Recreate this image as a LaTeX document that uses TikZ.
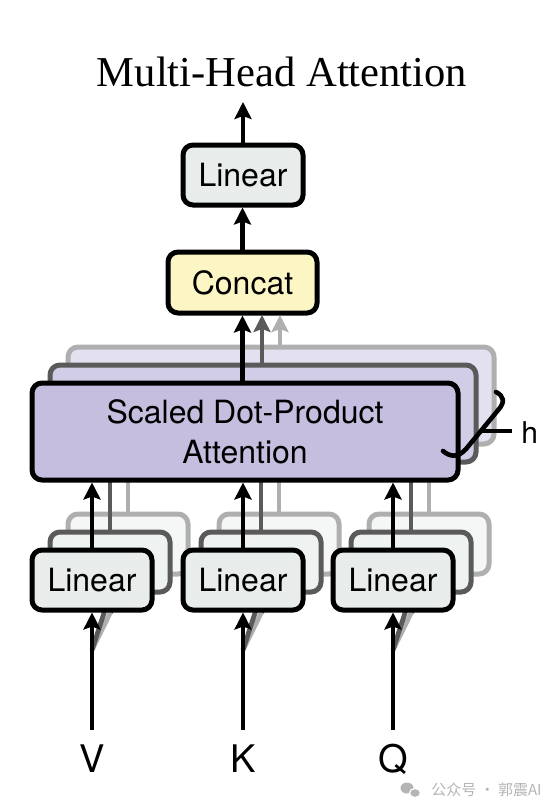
\documentclass[tikz,border=0pt]{standalone}
\usepackage{fontspec}
\setmainfont{Liberation Serif}
\newfontfamily\hv{TeX Gyre Heros}
\newfontfamily\cjk{Noto Sans CJK SC}
\usetikzlibrary{arrows.meta}
\definecolor{linfill}{HTML}{E8EDEB}
\definecolor{linfillb}{HTML}{EEF2F0}
\definecolor{linfillc}{HTML}{F5F7F6}
\definecolor{catfill}{HTML}{FCF5C4}
\definecolor{sdfill}{HTML}{C5BEDE}
\definecolor{sdfillb}{HTML}{D2CDE6}
\definecolor{sdfillc}{HTML}{E3E0F0}
\definecolor{midgray}{HTML}{5A5A5A}
\definecolor{lightgray}{HTML}{AFAFAF}
\definecolor{wmgray}{HTML}{B4B4B4}
\tikzset{
  box/.style={draw, line width=2.5pt, rounded corners=5pt, inner sep=0pt,
    font=\hv\fontsize{16}{20}\selectfont, align=center},
  linbox/.style={box, fill=linfill, minimum width=60pt, minimum height=30pt},
  sdbox/.style={box, fill=sdfill, minimum width=213pt, minimum height=48.5pt},
  layerb/.style={draw=midgray},
  layerc/.style={draw=lightgray},
  arr/.style={line width=2.4pt, -{Stealth[length=8.5pt,width=8.5pt,inset=1.5pt]}},
  arrb/.style={arr, draw=midgray},
  arrc/.style={arr, draw=lightgray},
  lbl/.style={font=\hv\fontsize{19}{22}\selectfont, anchor=base, inner sep=0pt},
}
\begin{document}
\begin{tikzpicture}[x=0.5pt,y=-0.5pt]
\useasboundingbox (0,0) rectangle (554,808);
% title
\node[anchor=base, inner sep=0pt, font=\fontsize{21.3}{24}\selectfont] (title) at (282,87) {Multi-Head Attention};

% input coordinates
\coordinate (vin) at (92,730);
\coordinate (kin) at (243,730);
\coordinate (qin) at (393,730);
\coordinate (vs) at (92,650);
\coordinate (ks) at (243,650);
\coordinate (qs) at (393,650);

% back layers of SDPA
\node[sdbox, layerc, fill=sdfillc] (sdc) at (281,395.5) {};
% back layers of linear (3rd)
\node[linbox, layerc, fill=linfillc] (l1c) at (128,544) {};
\node[linbox, layerc, fill=linfillc] (l2c) at (279,544) {};
\node[linbox, layerc, fill=linfillc] (l3c) at (429,544) {};
% slanted input arrows (hidden parts)
\draw[arrc] (vs) -- (l1c.south);
\draw[arrc] (ks) -- (l2c.south);
\draw[arrc] (qs) -- (l3c.south);
\draw[arrc] (l1c.north) -- (l1c.north |- sdc.south);
\draw[arrc] (l2c.north) -- (l2c.north |- sdc.south);
\draw[arrc] (l3c.north) -- (l3c.north |- sdc.south);

\node[sdbox, layerb, fill=sdfillb] (sdb) at (263,413.5) {};
\node[linbox, layerb, fill=linfillb] (l1b) at (110,562) {};
\node[linbox, layerb, fill=linfillb] (l2b) at (261,562) {};
\node[linbox, layerb, fill=linfillb] (l3b) at (411,562) {};
\draw[arrb] (vs) -- (l1b.south);
\draw[arrb] (ks) -- (l2b.south);
\draw[arrb] (qs) -- (l3b.south);
\draw[arrb] (l1b.north) -- (l1b.north |- sdb.south);
\draw[arrb] (l2b.north) -- (l2b.north |- sdb.south);
\draw[arrb] (l3b.north) -- (l3b.north |- sdb.south);

% front boxes
\node[sdbox] (sd) at (245,431.5) {Scaled Dot-Product\\Attention};
\node[linbox] (l1) at (92,580) {Linear};
\node[linbox] (l2) at (243,580) {Linear};
\node[linbox] (l3) at (393,580) {Linear};
\node[box, fill=catfill, minimum width=74.5pt, minimum height=30.5pt] (cat) at (242.5,282.5) {Concat};
\node[linbox] (lin) at (243,175) {Linear};
\coordinate (out) at (243,102);

% black arrows
\draw[arr] (vin) -- (l1.south);
\draw[arr] (kin) -- (l2.south);
\draw[arr] (qin) -- (l3.south);
\draw[arr] (l1.north) -- (l1.north |- sd.south);
\draw[arr] (l2.north) -- (l2.north |- sd.south);
\draw[arr] (l3.north) -- (l3.north |- sd.south);
\draw[arrc] (sdc.north -| 280,0) -- (280,315);
\draw[arrb] (sdb.north -| 262,0) -- (262,315);
\draw[arr] (cat.south |- sd.north) -- (cat.south);
\draw[arr] (cat.north) -- (cat.north |- lin.south);
\draw[arr] (lin.north) -- (out);

% h brace
\draw[line width=2.3pt, line cap=round, line join=round]
  (496,392) .. controls (504,396) and (505,402) .. (499,409)
  -- (466,449) .. controls (458,458) and (450,457) .. (443,451);
\coordinate (bmid) at (482,431);
\coordinate (bend) at (512,431);
\draw[line width=1.6pt] (bmid) -- (bend);
\node[font=\hv\fontsize{15}{18}\selectfont, anchor=base west, inner sep=0pt] (h) at (521,443) {h};

% labels
\node[lbl] (V) at (92,772) {V};
\node[lbl] (K) at (243,772) {K};
\node[lbl] (Q) at (393,772) {Q};

% watermark
\fill[wmgray] (407,788) ellipse (6.5 and 5.5);
\draw[wmgray, fill=wmgray, draw=white, line width=0.6pt] (415,793) ellipse (5.5 and 4.5);
\node[anchor=west, inner sep=0pt, text=wmgray, font=\cjk\fontsize{7.5}{9}\selectfont] (wm) at (431,790) {公众号 · 郭震AI};
\end{tikzpicture}
\end{document}
